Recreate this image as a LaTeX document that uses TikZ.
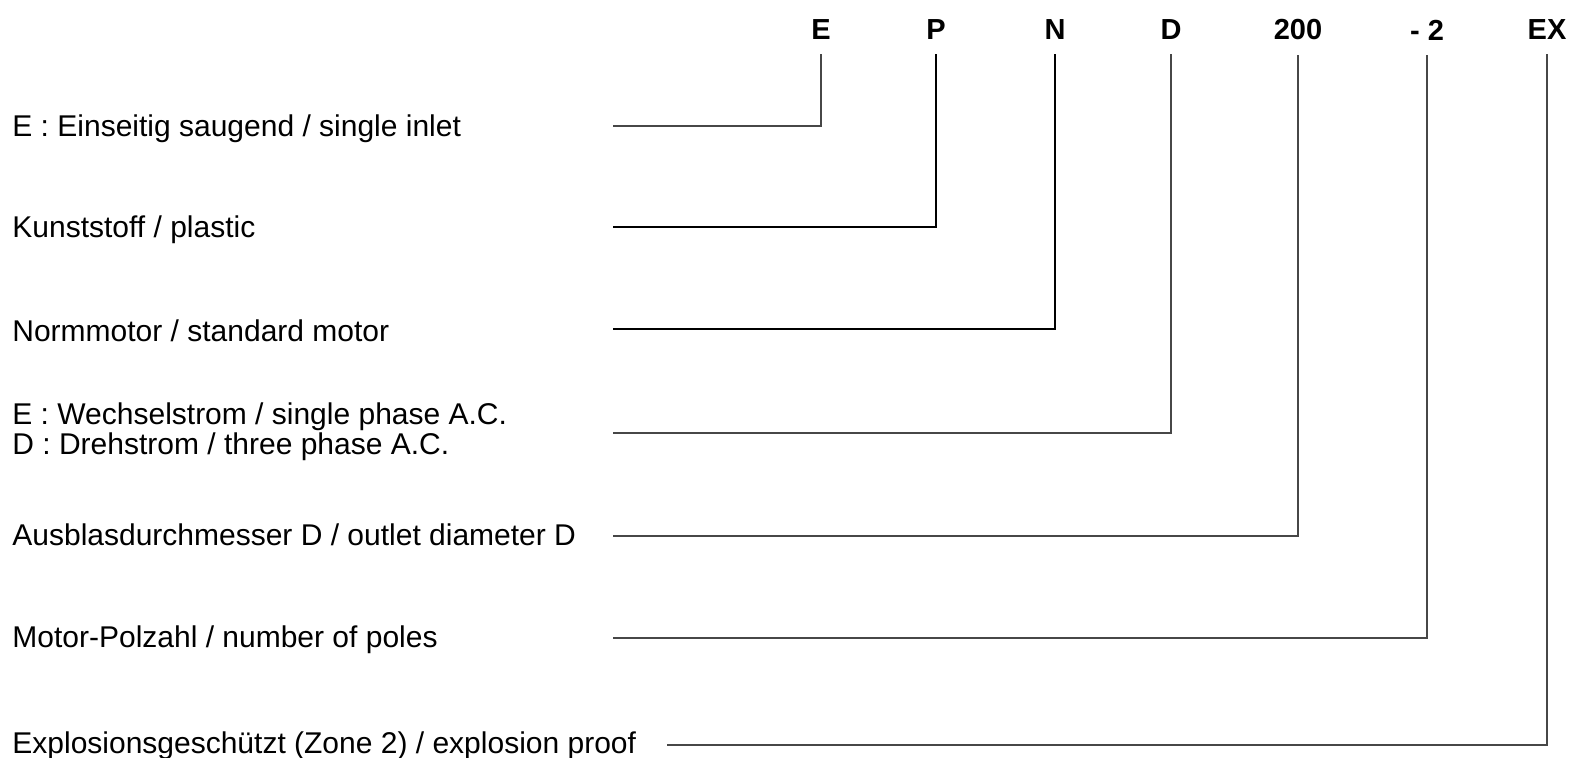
\documentclass[tikz,border=0pt]{standalone}
\usepackage{fontspec}
\setmainfont{Liberation Sans}
\usetikzlibrary{positioning}

\tikzset{
  code/.style={font=\bfseries\fontsize{14.5}{16}\selectfont, inner sep=2pt},
  desc/.style={anchor=west, align=left, inner sep=0pt, font=\fontsize{15}{13.6}\selectfont},
  lead/.style={line width=1pt, draw=black!72}
}

\begin{document}
\begin{tikzpicture}[x=0.5pt, y=-0.5pt]
\useasboundingbox (0,0) rectangle (1584,757);
% code letters
\node[code] (E)   at (821,30)  {E};
\node[code] (P)   at (936,30)  {P};
\node[code] (N)   at (1055,30) {N};
\node[code] (D)   at (1171,30) {D};
\node[code] (DN)  at (1298,30) {200};
\node[code] (POL) at (1427,30) {- 2};
\node[code] (EX)  at (1547,30) {EX};
% descriptions
\node[desc] (tE)   at (12,129) {E : Einseitig saugend / single inlet};
\node[desc] (tP)   at (12,230) {Kunststoff / plastic};
\node[desc] (tN)   at (12,331) {Normmotor / standard motor};
\node[desc] (tD)   at (12,432) {E : Wechselstrom / single phase A.C.\\D : Drehstrom / three phase A.C.};
\node[desc] (tDN)  at (12,535) {Ausblasdurchmesser D / outlet diameter D};
\node[desc] (tPOL) at (12,640) {Motor-Polzahl / number of poles};
\node[desc] (tEX)  at (12,746) {Explosionsgeschützt (Zone 2) / explosion proof};
% line starts
\coordinate (sE)   at (613,126);
\coordinate (sP)   at (613,227);
\coordinate (sN)   at (613,329);
\coordinate (sD)   at (613,433);
\coordinate (sDN)  at (613,536);
\coordinate (sPOL) at (613,638);
\coordinate (sEX)  at (667,745);
% leads
\draw[lead] (sE) -| ([yshift=-5pt]E.south);
\draw[lead, draw=black] (sP) -| ([yshift=-5pt]P.south);
\draw[lead, draw=black] (sN) -| ([yshift=-5pt]N.south);
\draw[lead] (sD) -| ([yshift=-5pt]D.south);
\draw[lead] (sDN) -| ([yshift=-5pt]DN.south);
\draw[lead] (sPOL) -| ([yshift=-5pt]POL.south);
\draw[lead] (sEX) -| ([yshift=-5pt]EX.south);
\end{tikzpicture}
\end{document}
